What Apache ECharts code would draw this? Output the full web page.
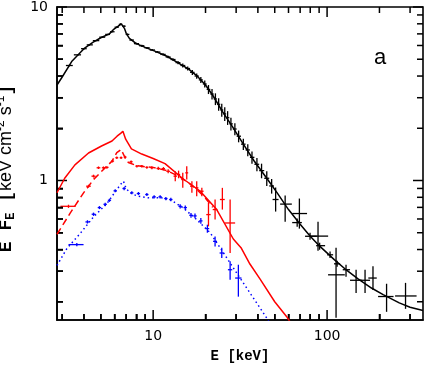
<!DOCTYPE html>
<html>
<head>
<meta charset="utf-8">
<script src="https://cdn.jsdelivr.net/npm/echarts@6/dist/echarts.min.js"></script>
<style>
  html, body { margin: 0; padding: 0; background: #fff; }
  #chart { width: 425px; height: 367px; }
</style>
</head>
<body>
<div id="chart"></div>
<script>
// E [keV] vs E*F_E [keV cm^-2 s^-1]

// model curves: [E, EF_E]
const modelTotal = [
  [2.8, 3.55], [3.0, 3.95], [3.4, 4.85], [4.0, 5.75], [4.5, 6.25], [5.0, 6.65],
  [5.6, 7.0], [5.9, 7.4], [6.3, 7.75], [6.55, 8.0], [6.7, 8.05], [6.85, 7.5],
  [7.0, 7.05], [7.3, 6.6], [8.0, 6.15], [9.0, 5.85], [10.3, 5.55], [12, 5.2],
  [14, 4.75], [16, 4.38], [18, 3.98], [20, 3.55], [22, 3.1], [25, 2.5],
  [28.5, 2.05], [33, 1.62], [38, 1.3], [45, 1.03], [52, 0.84], [60, 0.68],
  [70, 0.56], [80, 0.477], [91, 0.417], [110, 0.35], [130, 0.303], [150, 0.272],
  [180, 0.24], [210, 0.22], [260, 0.197], [300, 0.186], [356, 0.178]
];
const modelRed = [
  [2.8, 0.85], [3.1, 1.03], [3.55, 1.23], [4.25, 1.44], [5.05, 1.58], [5.8, 1.69],
  [6.2, 1.8], [6.5, 1.87], [6.7, 1.92], [6.95, 1.73], [7.5, 1.52], [8.6, 1.42],
  [10, 1.34], [11.7, 1.25], [14.9, 1.02], [18.6, 0.87], [23.2, 0.68], [28.9, 0.46],
  [32, 0.41], [36, 0.33], [41.2, 0.27], [50, 0.2], [58.6, 0.164], [62, 0.15]
];
const modelRedDashed = [
  [2.8, 0.49], [3.34, 0.65], [3.98, 0.849], [4.54, 1.013], [5.18, 1.158], [5.8, 1.293],
  [6.18, 1.446], [6.54, 1.51], [6.7, 1.52], [6.9, 1.353], [7.2, 1.27], [8, 1.22],
  [9, 1.2], [10, 1.19], [12, 1.14], [14, 1.06], [16, 0.97], [18, 0.88], [20, 0.79], [22, 0.7]
];
const modelBlue = [
  [2.8, 0.324], [3.19, 0.405], [3.8, 0.494], [4.54, 0.617], [5.42, 0.736], [6.05, 0.86],
  [6.5, 0.95], [6.75, 0.99], [6.9, 0.93], [7.06, 0.887], [7.6, 0.835], [8.23, 0.811],
  [9.4, 0.794], [11.2, 0.794], [12.5, 0.777], [14.9, 0.695], [17.8, 0.595], [21.3, 0.499],
  [25.4, 0.382], [30.2, 0.293], [36.1, 0.224], [41.2, 0.184], [45, 0.161], [47, 0.15]
];

// data points: [E, Elo, Ehi, EF_E, lo, hi]
const pointsBlack = [
  [3.3, 3.15, 3.45, 4.6, 4.55, 4.65], [3.7, 3.5, 3.85, 5.3, 5.25, 5.35],
  [4.0, 3.85, 4.15, 5.75, 5.69, 5.81], [4.3, 4.15, 4.5, 6.05, 5.99, 6.11],
  [4.7, 4.5, 4.9, 6.4, 6.34, 6.46], [5.1, 4.9, 5.3, 6.7, 6.63, 6.77],
  [5.5, 5.3, 5.65, 6.95, 6.88, 7.02], [5.8, 5.65, 6.0, 7.2, 7.12, 7.28],
  [6.2, 6.0, 6.35, 7.65, 7.57, 7.73], [6.5, 6.35, 6.65, 7.95, 7.86, 8.04],
  [6.8, 6.65, 6.95, 7.75, 7.66, 7.84], [7.1, 6.95, 7.3, 6.95, 6.87, 7.03],
  [7.5, 7.3, 7.75, 6.45, 6.38, 6.52], [8.0, 7.75, 8.3, 6.15, 6.08, 6.22],
  [8.6, 8.3, 8.9, 5.98, 5.91, 6.05], [9.2, 8.9, 9.55, 5.82, 5.75, 5.89],
  [9.9, 9.55, 10.25, 5.65, 5.58, 5.72], [10.6, 10.25, 11.0, 5.5, 5.43, 5.57],
  [11.4, 11.0, 11.8, 5.33, 5.25, 5.41], [12.2, 11.8, 12.6, 5.15, 5.07, 5.23],
  [13.0, 12.6, 13.45, 4.98, 4.9, 5.06], [13.9, 13.45, 14.35, 4.78, 4.68, 4.88],
  [14.8, 14.35, 15.3, 4.6, 4.48, 4.72], [15.8, 15.3, 16.3, 4.42, 4.3, 4.54],
  [16.8, 16.3, 17.3, 4.2, 4.06, 4.34], [17.8, 17.3, 18.3, 4.0, 3.86, 4.14],
  [18.8, 18.3, 19.3, 3.8, 3.65, 3.95], [19.8, 19.3, 20.3, 3.6, 3.43, 3.77],
  [20.8, 20.3, 21.3, 3.35, 3.15, 3.55], [21.8, 21.3, 22.3, 3.15, 2.93, 3.37],
  [22.8, 22.3, 23.3, 2.95, 2.72, 3.18], [23.8, 23.3, 24.3, 2.75, 2.52, 2.98],
  [24.8, 24.3, 25.3, 2.55, 2.33, 2.77], [25.8, 25.3, 26.3, 2.42, 2.2, 2.64],
  [26.8, 26.3, 27.4, 2.3, 2.09, 2.51], [28.0, 27.4, 28.7, 2.12, 1.94, 2.3],
  [29.5, 28.7, 30.2, 1.98, 1.82, 2.14], [31.0, 30.2, 32.0, 1.8, 1.66, 1.94],
  [33.0, 32.0, 34.0, 1.62, 1.5, 1.74], [35.0, 34.0, 36.0, 1.5, 1.38, 1.62],
  [37.0, 36.0, 38.2, 1.36, 1.25, 1.47], [39.5, 38.2, 40.7, 1.24, 1.13, 1.35],
  [42.0, 40.7, 43.5, 1.14, 1.03, 1.25], [45.0, 43.5, 46.5, 1.03, 0.93, 1.13],
  [48.0, 46.5, 49.5, 0.93, 0.84, 1.02], [50.6, 48.6, 52.6, 0.777, 0.662, 0.911],
  [57.4, 53.7, 62.7, 0.731, 0.579, 0.819], [67.3, 63.0, 71.6, 0.572, 0.542, 0.603],
  [69.3, 63.0, 76.7, 0.645, 0.528, 0.787], [79.8, 74.7, 87.3, 0.477, 0.456, 0.5],
  [88.7, 79.8, 101.4, 0.478, 0.394, 0.579], [90.6, 86.5, 97.4, 0.421, 0.399, 0.438],
  [104, 100, 108.3, 0.373, 0.357, 0.39], [112.6, 101.3, 126.4, 0.286, 0.1615, 0.41],
  [114.2, 109.6, 118.8, 0.331, 0.318, 0.345], [128.5, 123, 135.5, 0.306, 0.279, 0.327],
  [146.8, 135.5, 158.2, 0.266, 0.225, 0.306], [165.3, 155, 176.6, 0.266, 0.225, 0.306],
  [183.6, 172.6, 193, 0.274, 0.234, 0.32], [219.8, 196.4, 241, 0.2144, 0.175, 0.254],
  [282.5, 246, 327, 0.216, 0.182, 0.257]
];
const pointsRed = [
  [3.26, 2.93, 3.58, 0.71, 0.695, 0.725], [4.25, 4.12, 4.38, 0.927, 0.91, 0.945],
  [4.54, 4.42, 4.66, 1.059, 1.04, 1.08], [4.85, 4.73, 4.97, 1.184, 1.165, 1.205],
  [5.18, 5.07, 5.3, 1.184, 1.165, 1.205], [5.42, 5.32, 5.54, 1.19, 1.17, 1.21],
  [5.84, 5.72, 5.96, 1.293, 1.27, 1.315], [6.18, 6.06, 6.3, 1.353, 1.33, 1.375],
  [6.54, 6.42, 6.66, 1.353, 1.33, 1.375], [6.9, 6.77, 7.03, 1.364, 1.34, 1.39],
  [7.47, 7.32, 7.62, 1.283, 1.26, 1.305], [8.06, 7.9, 8.22, 1.21, 1.19, 1.23],
  [8.6, 8.43, 8.77, 1.21, 1.19, 1.23], [9.2, 9.02, 9.38, 1.19, 1.17, 1.21],
  [9.83, 9.64, 10.0, 1.184, 1.16, 1.21], [10.7, 10.45, 10.95, 1.173, 1.15, 1.2],
  [11.46, 11.2, 11.7, 1.17, 1.145, 1.195], [12.2, 11.9, 12.5, 1.13, 1.1, 1.16],
  [13.4, 13.1, 13.7, 1.059, 0.99, 1.13], [14.0, 13.7, 14.3, 1.083, 1.03, 1.14],
  [14.8, 14.5, 15.1, 1.013, 0.907, 1.107], [15.6, 15.3, 15.9, 1.107, 1.013, 1.21],
  [16.7, 16.3, 17.1, 0.927, 0.849, 0.99], [17.8, 17.4, 18.2, 0.907, 0.81, 0.99],
  [19.05, 18.6, 19.5, 0.867, 0.81, 0.907], [20.8, 20.2, 21.4, 0.636, 0.544, 0.743],
  [22.7, 22.0, 23.4, 0.68, 0.595, 0.777], [25.0, 24.2, 25.8, 0.777, 0.68, 0.907],
  [27.7, 25.9, 29.6, 0.569, 0.382, 0.777]
];
const pointsBlue = [
  [3.64, 3.26, 3.98, 0.427, 0.418, 0.436], [4.19, 4.08, 4.3, 0.577, 0.565, 0.59],
  [4.54, 4.43, 4.65, 0.639, 0.625, 0.653], [4.91, 4.8, 5.02, 0.698, 0.684, 0.712],
  [5.3, 5.18, 5.42, 0.729, 0.714, 0.744], [5.61, 5.49, 5.73, 0.769, 0.753, 0.785],
  [6.05, 5.92, 6.18, 0.872, 0.855, 0.89], [6.81, 6.66, 6.96, 0.899, 0.88, 0.918],
  [7.54, 7.38, 7.7, 0.849, 0.832, 0.866], [8.23, 8.05, 8.41, 0.841, 0.824, 0.858],
  [9.2, 9.0, 9.4, 0.83, 0.813, 0.847], [10.13, 9.9, 10.36, 0.805, 0.788, 0.822],
  [10.97, 10.73, 11.21, 0.805, 0.788, 0.822], [11.83, 11.57, 12.09, 0.787, 0.77, 0.804],
  [12.64, 12.36, 12.92, 0.777, 0.76, 0.795], [14.3, 13.98, 14.62, 0.71, 0.69, 0.73],
  [15.3, 14.96, 15.64, 0.698, 0.678, 0.718], [16.5, 16.13, 16.87, 0.63, 0.61, 0.65],
  [17.4, 17.01, 17.79, 0.625, 0.605, 0.645], [18.8, 18.38, 19.22, 0.585, 0.563, 0.607],
  [20.5, 20.0, 21.0, 0.528, 0.5, 0.556], [22.7, 22.1, 23.3, 0.446, 0.417, 0.476],
  [24.8, 24.1, 25.5, 0.382, 0.357, 0.409], [27.7, 26.9, 28.5, 0.306, 0.268, 0.342],
  [30.9, 29.6, 32.2, 0.274, 0.214, 0.327]
];

// axis ranges and tick values
const xRange = [2.8, 356];
const yRange = [0.157, 10];
const xMajor = [10, 100];
const xMinor = [3, 4, 5, 6, 7, 8, 9, 20, 30, 40, 50, 60, 70, 80, 90, 200, 300];
const yMajor = [1, 10];
const yMinor = [0.2, 0.3, 0.4, 0.5, 0.6, 0.7, 0.8, 0.9, 2, 3, 4, 5, 6, 7, 8, 9];

const chart = echarts.init(document.getElementById('chart'));

function seg(p, q, color, w) {
  return { type: 'line', shape: { x1: p[0], y1: p[1], x2: q[0], y2: q[1] }, style: { stroke: color, lineWidth: w || 1.3 } };
}

function crosses(color) {
  return function (params, api) {
    const a = api.coord([api.value(1), api.value(3)]);
    const b = api.coord([api.value(2), api.value(3)]);
    const c = api.coord([api.value(0), api.value(4)]);
    const d = api.coord([api.value(0), api.value(5)]);
    return { type: 'group', children: [seg(a, b, color), seg(c, d, color)] };
  };
}

// frame ticks, inside, on the two opposite sides; rows laid out like the crosses
function frameTicks(params, api) {
  const len = api.value(3) > 1 ? 10 : 6;
  const kids = [];
  if (api.value(2) === 0) {
    const b = api.coord([api.value(0), yRange[0]]);
    const t = api.coord([api.value(0), yRange[1]]);
    kids.push(seg(b, [b[0], b[1] - len], '#000', 1.5), seg(t, [t[0], t[1] + len], '#000', 1.5));
  } else {
    const l = api.coord([xRange[0], api.value(1)]);
    const r = api.coord([xRange[1], api.value(1)]);
    kids.push(seg(l, [l[0] + len, l[1]], '#000', 1.5), seg(r, [r[0] - len, r[1]], '#000', 1.5));
  }
  return { type: 'group', children: kids };
}
// rows: [E, EF_E, axis (0 = x, 1 = y), 2 for a decade tick else 1]
const tickRows = []
  .concat(xMajor.map(v => [v, 1, 0, 2]), xMinor.map(v => [v, 1, 0, 1]))
  .concat(yMajor.map(v => [10, v, 1, 2]), yMinor.map(v => [10, v, 1, 1]));

function decadeLabel(v) {
  const l = Math.log10(v);
  return Math.abs(l - Math.round(l)) < 1e-6 ? String(Math.round(v)) : '';
}

const mono = '"Liberation Mono", "Courier New", monospace';
const sans = '"Liberation Sans", Arial, sans-serif';
const labelStyle = { color: '#000', fontFamily: '"DejaVu Sans"', fontSize: 14, margin: 9, formatter: decadeLabel };

chart.setOption({
  animation: false,
  grid: {
    left: 57, right: 2, top: 7, bottom: 47,
    outerBoundsMode: 'none',
    show: true, borderColor: '#000', borderWidth: 1.6
  },
  xAxis: {
    type: 'log', logBase: 10, min: xRange[0], max: xRange[1],
    axisLine: { show: true, lineStyle: { color: '#000', width: 1.6 } },
    splitLine: { show: false },
    axisTick: { show: true, inside: true, length: 6, customValues: xMinor, lineStyle: { color: '#000', width: 1.5 } },
    axisLabel: Object.assign({ showMinLabel: false, showMaxLabel: false }, labelStyle),
    name: 'E [keV]',
    nameLocation: 'middle',
    nameGap: 29,
    nameTextStyle: { color: '#000', fontFamily: mono, fontWeight: 'bold', fontSize: 14 }
  },
  yAxis: {
    type: 'log', logBase: 10, min: yRange[0], max: yRange[1],
    axisLine: { show: true, lineStyle: { color: '#000', width: 1.6 } },
    splitLine: { show: false },
    axisTick: { show: true, inside: true, length: 6, customValues: yMinor, lineStyle: { color: '#000', width: 1.5 } },
    axisLabel: Object.assign({ showMinLabel: false }, labelStyle),
    name: '{m|E F}{s|E}{m| [}{k|keV cm}{p|-2}{k| s}{p|-1}{m|]}',
    nameLocation: 'middle',
    nameRotate: 90,
    nameGap: 40,
    nameTextStyle: {
      color: '#000',
      padding: [0, 10, 0, 0],
      rich: {
        m: { fontFamily: mono, fontWeight: 'bold', fontSize: 18, lineHeight: 22, color: '#000' },
        s: { fontFamily: mono, fontWeight: 'bold', fontSize: 12, lineHeight: 22, verticalAlign: 'bottom', color: '#000' },
        k: { fontFamily: sans, fontSize: 18, lineHeight: 22, color: '#000' },
        p: { fontFamily: sans, fontSize: 12, lineHeight: 22, verticalAlign: 'top', color: '#000' }
      }
    }
  },
  graphic: [{
    type: 'text', x: 380, y: 58,
    style: { text: 'a', font: '22px "Liberation Sans"', fill: '#000', align: 'center', verticalAlign: 'middle' }
  }],
  series: [
    { type: 'line', data: modelTotal, showSymbol: false, lineStyle: { color: '#000', width: 1.5 } },
    { type: 'line', data: modelRed, showSymbol: false, lineStyle: { color: '#ff0000', width: 1.5 } },
    { type: 'line', data: modelRedDashed, showSymbol: false, lineStyle: { color: '#ff0000', width: 1.5, type: [7, 4] } },
    { type: 'line', data: modelBlue, showSymbol: false, lineStyle: { color: '#0000ff', width: 1.5, type: [1.5, 3] } },
    { type: 'custom', data: pointsBlack, renderItem: crosses('#000'), encode: { x: [0, 1, 2], y: [3, 4, 5] } },
    { type: 'custom', data: pointsRed, renderItem: crosses('#ff0000'), encode: { x: [0, 1, 2], y: [3, 4, 5] } },
    { type: 'custom', data: pointsBlue, renderItem: crosses('#0000ff'), encode: { x: [0, 1, 2], y: [3, 4, 5] } },
    { type: 'custom', data: tickRows, renderItem: frameTicks, encode: { x: 0, y: 1 } }
  ]
});
</script>
</body>
</html>
